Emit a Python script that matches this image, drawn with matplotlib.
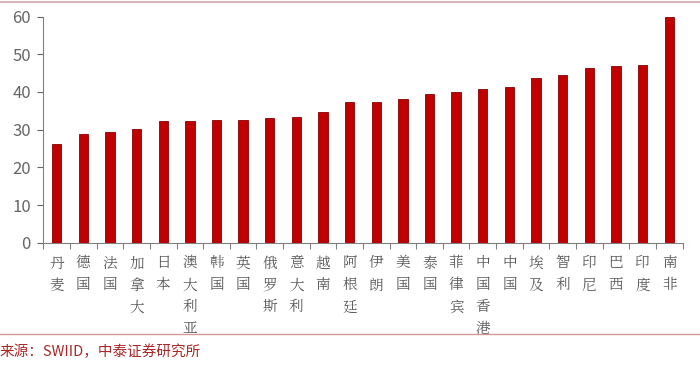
import matplotlib.pyplot as plt
from matplotlib.lines import Line2D

plt.rcParams['font.family'] = ['Noto Sans CJK SC', 'DejaVu Sans']

paises = ['丹麦', '德国', '法国', '加拿大', '日本', '澳大利亚', '韩国', '英国',
          '俄罗斯', '意大利', '越南', '阿根廷', '伊朗', '美国', '泰国', '菲律宾',
          '中国香港', '中国', '埃及', '智利', '印尼', '巴西', '印度', '南非']
gini = [26.3, 28.9, 29.3, 30.2, 32.2, 32.2, 32.6, 32.6, 33.1, 33.5, 34.8, 37.3,
        37.3, 38.2, 39.4, 39.9, 40.8, 41.2, 43.7, 44.5, 46.3, 46.8, 47.2, 59.8]
yticks = [0, 10, 20, 30, 40, 50, 60]

gris = '#808080'

fig = plt.figure(figsize=(7, 3.68), dpi=100)
ax = fig.add_axes([0.062, 0.34, 0.913, 0.615])

x = range(len(paises))
ax.bar(x, gini, width=0.35, color='#c00000', edgecolor='#8b0000', linewidth=0.6)

ax.set_xlim(-0.5, len(paises) - 0.5)
ax.set_ylim(0, 60)
ax.set_yticks(yticks)
ax.tick_params(axis='y', colors='#666666', labelsize=12, length=4, width=0.8,
               direction='out', pad=5)
ax.tick_params(axis='y', labelcolor='#666666')

# ticks del eje x entre categorias, etiquetas verticales caracter a caracter
ax.set_xticks([i + 0.5 for i in range(-1, len(paises))])
ax.set_xticklabels([])
ax.tick_params(axis='x', colors=gris, length=4, width=0.8, direction='out')
for i, p in enumerate(paises):
    ax.text(i, -3.2, '\n'.join(p), ha='center', va='top', fontsize=10.5,
            color='#5a5a5a', linespacing=1.45,
            family=['Noto Serif CJK SC', 'Noto Sans CJK SC', 'DejaVu Sans'])

for lado in ['top', 'right']:
    ax.spines[lado].set_visible(False)
ax.spines['left'].set_color(gris)
ax.spines['bottom'].set_color(gris)

# lineas decorativas y fuente
fig.add_artist(Line2D([0, 1], [0.995, 0.995], color='#d8b4bc', linewidth=1.5))
fig.add_artist(Line2D([0, 1], [0.092, 0.092], color='#d49a9a', linewidth=1.0))
fig.text(0.0, 0.043, '来源：SWIID，中泰证券研究所', color='#a82828', fontsize=10.5,
         ha='left', va='center')

fig.savefig('out.png', dpi=100)
